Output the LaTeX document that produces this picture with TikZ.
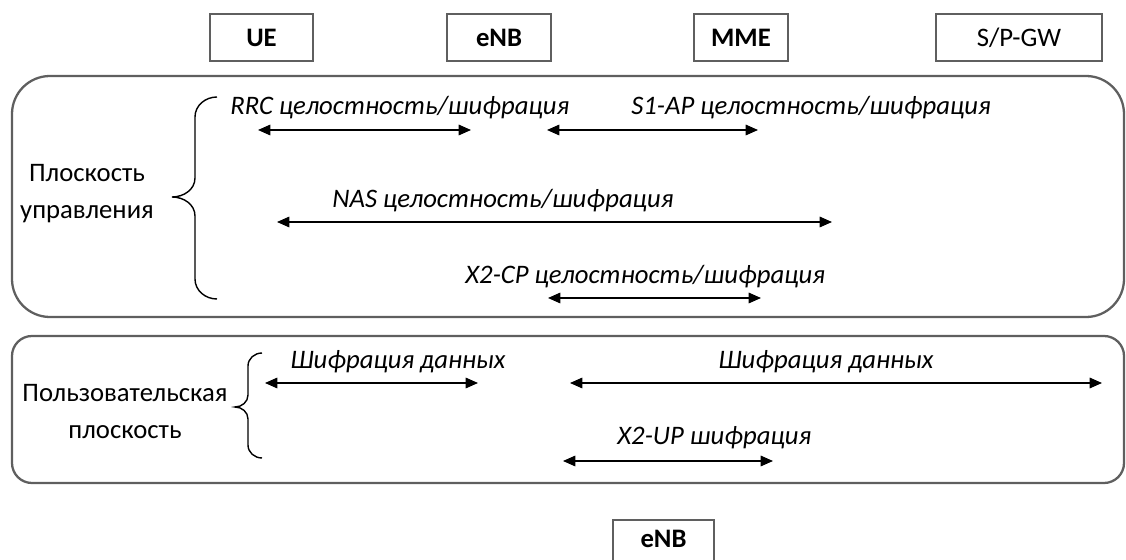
\documentclass[tikz,border=0pt]{standalone}
\usepackage{fontspec}
\setmainfont{Carlito}
\usetikzlibrary{arrows.meta}
\definecolor{edge}{RGB}{95,95,95}
\begin{document}
\begin{tikzpicture}[x=0.02cm, y=-0.02cm,
    ent/.style={draw=edge, line width=0.8pt, minimum width=#1*0.02cm, minimum height=0.94cm, inner sep=0pt},
    plane/.style={draw=edge, line width=1.3pt},
    lbl/.style={font=\itshape, anchor=west, inner sep=0pt},
    side/.style={align=center, inner sep=0pt, font=\fontsize{15.2}{21}\selectfont},
    dbl/.style={{Triangle[length=7pt,width=6pt]}-{Triangle[length=7pt,width=6pt]}, line width=0.8pt}]
  \fontsize{15.2}{18}\selectfont
  \useasboundingbox (0,0) rectangle (1126,560);
  % network elements
  \node[ent=103, font=\bfseries] (ue) at (261.5,37.5) {UE};
  \node[ent=104, font=\bfseries] (enb) at (499,37.5) {eNB};
  \node[ent=94, font=\bfseries] (mme) at (741,37.5) {MME};
  \node[ent=166] (spgw) at (1019,37.5) {S/P-GW};
  \node[ent=101, font=\bfseries, minimum height=1.1cm, text depth=0.34cm] (enbb) at (663.5,547.5) {eNB};
  % planes
  \draw[plane, rounded corners=0.76cm] (12,76) rectangle (1124,317);
  \draw[plane, rounded corners=0.4cm] (12,336) rectangle (1124,483);
  \node[side] (cp) at (87,193.5) {Плоскость\\управления};
  \node[side] (up) at (125,411.5) {Пользовательская\\плоскость};
  \draw[line width=0.8pt] (217,97) to[out=180,in=90] (195,117) -- (195,178)
    to[out=-90,in=0] (172,197) to[out=0,in=90] (195,216) -- (195,279)
    to[out=-90,in=180] (217,299);
  \draw[line width=0.8pt] (262,353) to[out=180,in=90] (248,366) -- (248,395)
    to[out=-90,in=0] (235,407) to[out=0,in=90] (248,419) -- (248,445)
    to[out=-90,in=180] (262,458);
  % control plane
  \coordinate (rrcA) at (258,130);  \coordinate (rrcB) at (471,130);
  \coordinate (s1A) at (547,130);   \coordinate (s1B) at (758,130);
  \coordinate (nasA) at (277,222);  \coordinate (nasB) at (832,222);
  \coordinate (x2cA) at (548,298);  \coordinate (x2cB) at (761,298);
  \draw[dbl] (rrcA) -- (rrcB);
  \draw[dbl] (s1A) -- (s1B);
  \draw[dbl] (nasA) -- (nasB);
  \draw[dbl] (x2cA) -- (x2cB);
  \node[lbl] (rrc) at (230,108) {RRC целостность/шифрация};
  \node[lbl] (s1) at (631,108) {S1-AP целостность/шифрация};
  \node[lbl] (nas) at (332,201) {NAS целостность/шифрация};
  \node[lbl] (x2c) at (465,277) {X2-CP целостность/шифрация};
  % user plane
  \coordinate (dA) at (265,383);    \coordinate (dB) at (478,383);
  \coordinate (dgA) at (570,383);   \coordinate (dgB) at (1102,383);
  \coordinate (x2uA) at (563,461);  \coordinate (x2uB) at (773,461);
  \draw[dbl] (dA) -- (dB);
  \draw[dbl] (dgA) -- (dgB);
  \draw[dbl] (x2uA) -- (x2uB);
  \node[lbl] (d) at (290,362) {Шифрация данных};
  \node[lbl] (dg) at (718,362) {Шифрация данных};
  \node[lbl] (x2u) at (617,438) {X2-UP шифрация};
\end{tikzpicture}
\end{document}
